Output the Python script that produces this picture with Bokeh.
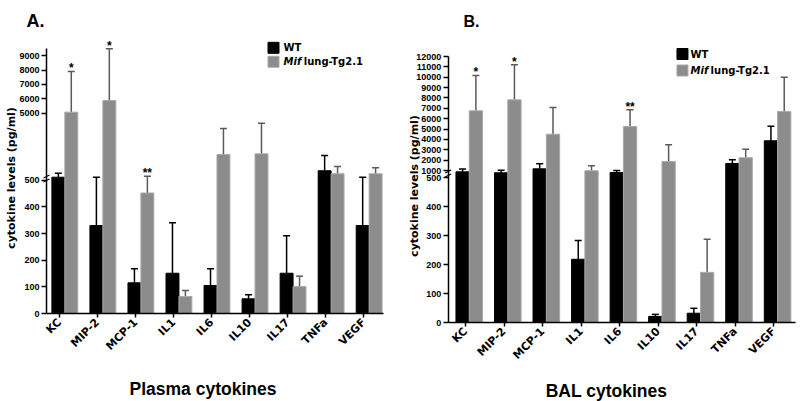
import math
from bokeh.plotting import figure
from bokeh.models import ColumnDataSource, Range1d, FixedTicker, Whisker, TeeHead
from bokeh.layouts import row
from bokeh.embed import file_html
from bokeh.resources import INLINE
from bokeh.core.properties import value

# ---------------- data ----------------
categories = ["KC", "MIP-2", "MCP-1", "IL1", "IL6", "IL10", "IL17", "TNFa", "VEGF"]

plasma_wt = [520, 330, 115, 151, 105, 55, 151, 970, 330]
plasma_wt_sem = [270, 190, 53, 189, 63, 15, 141, 1070, 190]
plasma_tg = [5060, 5870, 452, 64, 2105, 2150, 101, 760, 760]
plasma_tg_sem = [2840, 3610, 138, 22, 1815, 2140, 39, 510, 420]
plasma_stars = ["*", "*", "**", "", "", "", "", "", ""]
plasma_ticks_low = [0, 100, 200, 300, 400, 500]
plasma_ticks_high = [5000, 6000, 7000, 8000, 9000]

bal_wt = [870, 780, 1160, 218, 810, 21, 32, 1680, 3870]
bal_wt_sem = [270, 250, 490, 65, 190, 7, 17, 350, 1410]
bal_tg = [6760, 7820, 4500, 970, 5250, 1870, 173, 2230, 6700]
bal_tg_sem = [3410, 3380, 2580, 480, 1610, 1610, 114, 830, 3300]
bal_stars = ["*", "*", "", "", "**", "", "", "", ""]
bal_ticks_low = [0, 100, 200, 300, 400, 500]
bal_ticks_high = [1000, 2000, 3000, 4000, 5000, 6000, 7000, 8000, 9000, 10000, 11000, 12000]

series_names = ["WT", "Mif", "lung-Tg2.1"]
ylabel = "cytokine levels (pg/ml)"

WT_COLOR = "#000000"
TG_COLOR = "#8c8c8c"
TG_EDGE = "#a9a9a9"
TG_ERR = "#5a5a5a"
INK = "#000000"

FIG_H = 401


def broken_scale(low_max, low_px, up_base, up_base_px, up_px_per_unit):
    """Discontinuous (broken) y axis: linear lower segment, compressed upper segment."""
    def f(v):
        if v <= low_max:
            return v * low_px / low_max
        return up_base_px + (v - up_base) * up_px_per_unit
    return f


def build(cfg):
    m = cfg["map"]
    W = cfg["width"]
    p = figure(width=W, height=FIG_H, output_backend="svg", toolbar_location=None,
               x_range=Range1d(cfg["x_start"], cfg["x_end"]),
               y_range=Range1d(cfg["y_start"], cfg["y_end"]),
               min_border=0)
    p.outline_line_color = None
    p.xgrid.visible = False
    p.ygrid.visible = False
    p.background_fill_color = "white"
    p.border_fill_color = "white"
    xu = (cfg["x_end"] - cfg["x_start"]) / W  # data units per pixel (x)

    n = len(categories)
    wt, wt_sem, tg, tg_sem = cfg["wt"], cfg["wt_sem"], cfg["tg"], cfg["tg_sem"]
    xw = [i + cfg["wt_off"] for i in range(n)]
    xt = [i + cfg["tg_off"] for i in range(n)]
    src_wt = ColumnDataSource(dict(x=xw, top=[m(v) for v in wt],
                                   hi=[m(v + e) for v, e in zip(wt, wt_sem)]))
    src_tg = ColumnDataSource(dict(x=xt, top=[m(v) for v in tg],
                                   hi=[m(v + e) for v, e in zip(tg, tg_sem)]))

    p.add_layout(Whisker(source=src_wt, base="x", lower="top", upper="hi", dimension="height",
                         line_color=WT_COLOR, line_width=1.5, lower_head=None,
                         upper_head=TeeHead(size=7, line_color=WT_COLOR, line_width=1.5)))
    p.add_layout(Whisker(source=src_tg, base="x", lower="top", upper="hi", dimension="height",
                         line_color=TG_ERR, line_width=1.5, lower_head=None,
                         upper_head=TeeHead(size=7, line_color=TG_ERR, line_width=1.5)))

    p.vbar(x="x", top="top", bottom=0, width=cfg["bar_w"], source=src_wt,
           fill_color=WT_COLOR, line_color=WT_COLOR, line_width=1)
    p.vbar(x="x", top="top", bottom=0, width=cfg["bar_w"], source=src_tg,
           fill_color=TG_COLOR, line_color=TG_EDGE, line_width=1)

    # significance stars
    sx, sy, st = [], [], []
    for i, s in enumerate(cfg["stars"]):
        if s:
            sx.append(xt[i])
            sy.append(m(tg[i] + tg_sem[i]) + 3)
            st.append(s)
    p.text(x=sx, y=sy, text=st, text_align="center", text_baseline="alphabetic",
           text_font=value("Liberation Sans"), text_font_style="bold", text_font_size="12px",
           text_color=INK)

    # legend (manual, to allow italic "Mif")
    lx, ly1, ly2, tx, tx2 = cfg["legend"]
    p.scatter(x=[lx], y=[ly1], marker="square", size=11, fill_color=WT_COLOR, line_color=WT_COLOR)
    p.scatter(x=[lx], y=[ly2], marker="square", size=11, fill_color=TG_COLOR, line_color=TG_EDGE)
    p.text(x=[tx], y=[ly1], text=[series_names[0]], text_baseline="middle", text_color=INK,
           text_font=value("DejaVu Sans"), text_font_style="bold", text_font_size="10px")
    p.text(x=[tx], y=[ly2], text=[series_names[1]], text_baseline="middle", text_color=INK,
           text_font=value("DejaVu Sans"), text_font_style="bold italic", text_font_size="10px")
    p.text(x=[tx2], y=[ly2], text=[series_names[2]], text_baseline="middle", text_color=INK,
           text_font=value("DejaVu Sans"), text_font_style="bold", text_font_size="10px")

    # panel letter, axis titles
    p.text(x=[cfg["title_xy"][0]], y=[cfg["title_xy"][1]], text=[cfg["title"]],
           text_align="left", text_baseline="alphabetic", text_color=INK,
           text_font=value("Liberation Sans"), text_font_style="bold",
           text_font_size=cfg["title_size"])
    p.text(x=[cfg["xlabel_xy"][0]], y=[cfg["xlabel_xy"][1]], text=[cfg["xlabel"]],
           text_align="center", text_baseline="alphabetic", text_color=INK,
           text_font=value("Liberation Sans"), text_font_style="bold", text_font_size="17.5px")
    p.text(x=[cfg["ylabel_xy"][0]], y=[cfg["ylabel_xy"][1]], text=[ylabel], angle=math.pi / 2,
           text_align="center", text_baseline="middle", text_color=INK,
           text_font=value("DejaVu Sans"), text_font_style="bold", text_font_size="11px")

    # axes drawn at fixed positions inside the frame
    ax_x = cfg["axis_x"]
    xa = p.xaxis[0]
    xa.fixed_location = 0
    xa.bounds = (ax_x, cfg["axis_x_end"])
    xa.ticker = FixedTicker(ticks=list(range(n)))
    xa.major_label_overrides = {i: c for i, c in enumerate(categories)}
    xa.major_label_orientation = math.pi / 4
    xa.major_label_text_font = "DejaVu Sans"
    xa.major_label_text_font_style = "bold"
    xa.major_label_text_font_size = "11px"
    xa.major_label_text_color = INK
    xa.major_label_standoff = 3
    xa.major_tick_out = 4
    xa.major_tick_in = 0
    xa.minor_tick_line_color = None
    xa.axis_line_color = INK
    xa.major_tick_line_color = INK
    xa.axis_line_width = 1.5
    xa.major_tick_line_width = 1.5

    ya = p.yaxis[0]
    ya.fixed_location = ax_x
    tvals = cfg["ticks_low"] + cfg["ticks_high"]
    tpos = [m(v) for v in tvals]
    ya.ticker = FixedTicker(ticks=tpos)
    ya.major_label_overrides = {pos: str(v) for pos, v in zip(tpos, tvals)}
    ya.bounds = (0, m(cfg["axis_top"]))
    ya.major_label_text_font = "Liberation Sans"
    ya.major_label_text_font_style = "bold"
    ya.major_label_text_font_size = "9px"
    ya.major_label_text_color = INK
    ya.major_label_standoff = 2
    ya.major_tick_out = 5
    ya.major_tick_in = 0
    ya.minor_tick_line_color = None
    ya.axis_line_color = INK
    ya.major_tick_line_color = INK
    ya.axis_line_width = 1.5
    ya.major_tick_line_width = 1.5

    # axis break mark (white gap + two slanted strokes)
    by = cfg["break_y"]
    p.segment(x0=[ax_x], y0=[by - 1.5], x1=[ax_x], y1=[by + 1.5], line_color="white", line_width=3)
    p.segment(x0=[ax_x - 3 * xu, ax_x - 3 * xu], y0=[by - 3.5, by + 0.5],
              x1=[ax_x + 3 * xu, ax_x + 3 * xu], y1=[by - 0.5, by + 3.5],
              line_color=INK, line_width=1.2)
    return p


# Panel A: category spacing 38.04 px, first tick 59 px from the figure's left edge,
# y units = pixels above the zero line (88 px above the figure bottom).
sA = 38.04
WA = 384
pA = build(dict(
    map=broken_scale(500, 133.3, 500, 136.0, 0.01433),
    width=WA, x_start=-59 / sA, x_end=(WA - 59) / sA, y_start=-(FIG_H - 313), y_end=313,
    axis_x=-13 / sA, axis_x_end=324 / sA,
    title="A.", title_size="18px", title_xy=(-33 / sA, 293),
    xlabel="Plasma cytokines", xlabel_xy=(143.5 / sA, -75),
    ylabel_xy=(-48 / sA, 135.5),
    wt=plasma_wt, wt_sem=plasma_wt_sem, tg=plasma_tg, tg_sem=plasma_tg_sem,
    stars=plasma_stars, wt_off=-0.03, tg_off=0.31, bar_w=0.34,
    legend=(5.626, 265.7, 251.7, 5.89, 6.42),
    ticks_low=plasma_ticks_low, ticks_high=plasma_ticks_high, axis_top=9500,
    break_y=135,
))

# Panel B: spacing 38.54 px, first tick 81 px from this figure's left edge.
sB = 38.54
WB = 800 - WA
pB = build(dict(
    map=broken_scale(500, 145.0, 1000, 152.0, 0.01036),
    width=WB, x_start=-81 / sB, x_end=(WB - 81) / sB, y_start=-(FIG_H - 322), y_end=322,
    axis_x=-17.3 / sB, axis_x_end=330 / sB,
    title="B.", title_size="16px", title_xy=(-2 / sB, 301.5),
    xlabel="BAL cytokines", xlabel_xy=(141 / sB, -68),
    ylabel_xy=(-51 / sB, 136.5),
    wt=bal_wt, wt_sem=bal_wt_sem, tg=bal_tg, tg_sem=bal_tg_sem,
    stars=bal_stars, wt_off=-0.075, tg_off=0.27, bar_w=0.345,
    legend=(5.63, 268.5, 252.0, 5.84, 6.36),
    ticks_low=bal_ticks_low, ticks_high=bal_ticks_high, axis_top=12000,
    break_y=149,
))

layout = row(pA, pB)
open("out.html", "w").write(file_html(layout, INLINE))
